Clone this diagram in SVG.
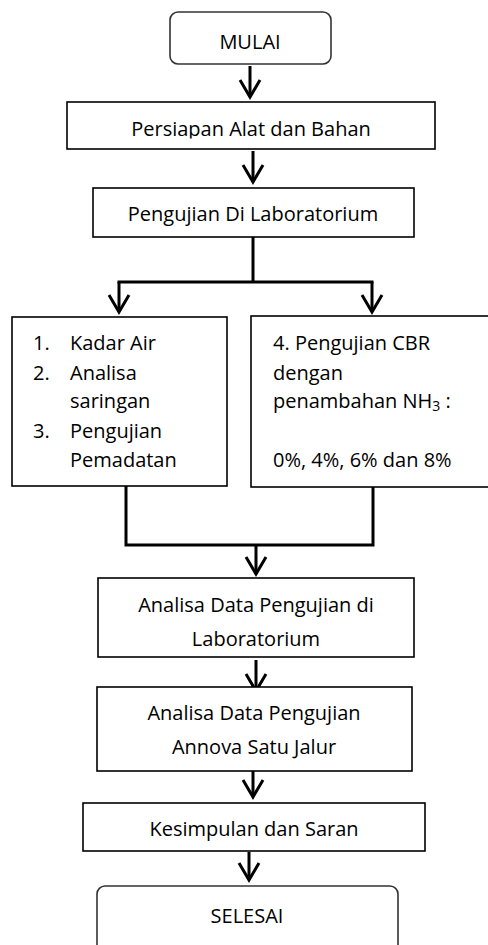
<svg xmlns="http://www.w3.org/2000/svg" width="488" height="945" viewBox="0 0 488 945">
<defs>
<style>
.box{fill:#fff;stroke:#000;stroke-width:1.6}
.term{fill:#fff;stroke:#333;stroke-width:1.6}
.t{font-family:"Open Sans","Liberation Sans",sans-serif;font-size:20px;fill:#000}
.c{text-anchor:middle}
.conn{fill:none;stroke:#000;stroke-width:3;stroke-linecap:square}
.arr{fill:none;stroke:#000;stroke-width:3;marker-end:url(#chev)}
</style>
<marker id="chev" markerUnits="userSpaceOnUse" markerWidth="30" markerHeight="30" viewBox="-20 -15 25 30" refX="0" refY="0" orient="auto" overflow="visible">
<path d="M-17,-10 L0,0 L-17,10" fill="none" stroke="#000" stroke-width="3"/>
</marker>
<clipPath id="clipP"><rect x="67" y="102" width="368" height="36.5"/></clipPath>
</defs>
<g id="connectors">
<path class="arr" d="M250,66 V97"/>
<path class="arr" d="M253,151 V182"/>
<path class="conn" d="M253,237 V282 M119,282 H372"/>
<path class="arr" d="M119,282 V312"/>
<path class="arr" d="M372,282 V312"/>
<path class="conn" d="M126,486 V545 H373 V487"/>
<path class="arr" d="M256,545 V574"/>
<path class="arr" d="M256,660 V691"/>
<path class="arr" d="M253,770 V797"/>
<path class="arr" d="M249,852 V880"/>
</g>
<g id="mulai">
<rect class="term" x="170" y="12" width="161" height="52" rx="8"/>
<text class="t c" x="250" y="49">MULAI</text>
</g>
<g id="persiapan">
<rect class="box" x="67" y="102" width="368" height="47"/>
<text class="t c" x="251" y="136" clip-path="url(#clipP)">Persiapan Alat dan Bahan</text>
</g>
<g id="pengujian-lab">
<rect class="box" x="93" y="188" width="321" height="49"/>
<text class="t c" x="253" y="221">Pengujian Di Laboratorium</text>
</g>
<g id="uji-1-3">
<rect class="box" x="12" y="317" width="215" height="169"/>
<text class="t" x="33" y="350">1.</text>
<text class="t" x="70" y="350">Kadar Air</text>
<text class="t" x="33" y="380">2.</text>
<text class="t" x="70" y="380">Analisa</text>
<text class="t" x="70" y="408">saringan</text>
<text class="t" x="33" y="438">3.</text>
<text class="t" x="70" y="438">Pengujian</text>
<text class="t" x="70" y="467">Pemadatan</text>
</g>
<g id="uji-cbr">
<rect class="box" x="251" y="316" width="245" height="171"/>
<text class="t" x="273" y="350">4. Pengujian CBR</text>
<text class="t" x="273" y="380">dengan</text>
<text class="t" x="273" y="408">penambahan NH<tspan font-size="14" dy="3">3</tspan><tspan dy="-3"> :</tspan></text>
<text class="t" x="273" y="467">0%, 4%, 6% dan 8%</text>
</g>
<g id="analisa-lab">
<rect class="box" x="98" y="578" width="316" height="79"/>
<text class="t c" x="256" y="612">Analisa Data Pengujian di</text>
<text class="t c" x="256" y="646">Laboratorium</text>
</g>
<g id="analisa-annova">
<rect class="box" x="97" y="687" width="315" height="84"/>
<text class="t c" x="254" y="720">Analisa Data Pengujian</text>
<text class="t c" x="254" y="754">Annova Satu Jalur</text>
</g>
<g id="kesimpulan">
<rect class="box" x="83" y="803" width="342" height="48"/>
<text class="t c" x="254" y="836">Kesimpulan dan Saran</text>
</g>
<g id="selesai">
<rect class="term" x="97" y="886" width="301" height="72" rx="8"/>
<text class="t c" x="247" y="923">SELESAI</text>
</g>
</svg>
